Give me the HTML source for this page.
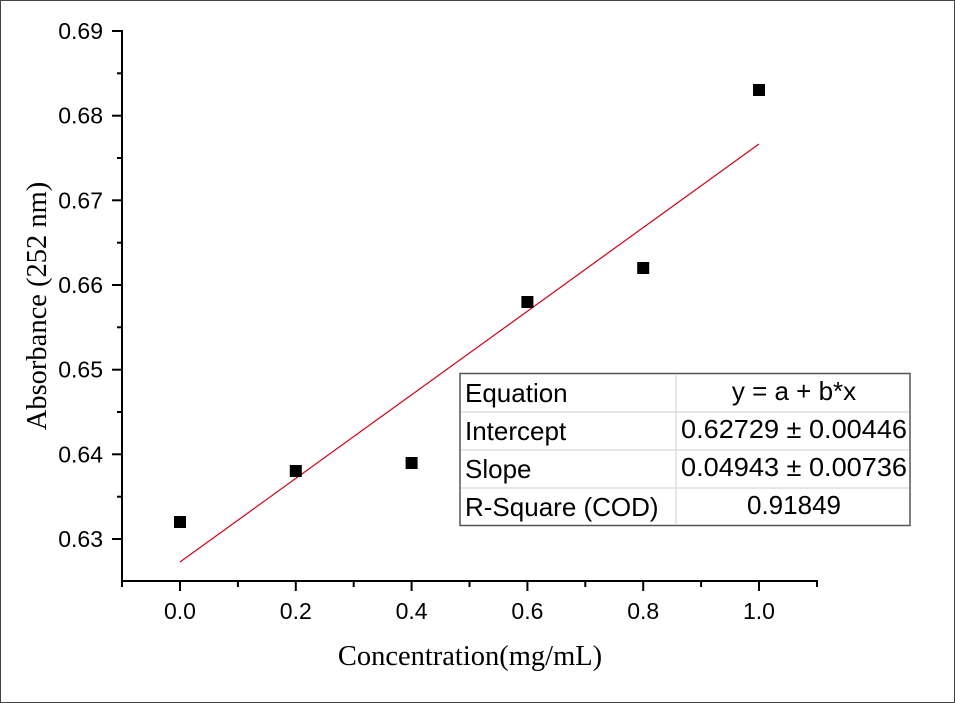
<!DOCTYPE html>
<html><head><style>body{margin:0;background:#fff}svg{display:block}</style></head><body>
<svg width="955" height="703" viewBox="0 0 955 703" xmlns="http://www.w3.org/2000/svg">
<rect x="0.5" y="0.5" width="954" height="702" fill="#fff" stroke="#444" stroke-width="1"/>
<g stroke="#000" stroke-width="2" fill="none">
<line x1="122" y1="30" x2="122" y2="582"/>
<line x1="121" y1="581" x2="818" y2="581"/>
<line x1="112" y1="31" x2="122" y2="31"/>
<line x1="112" y1="115.7" x2="122" y2="115.7"/>
<line x1="112" y1="200.3" x2="122" y2="200.3"/>
<line x1="112" y1="285" x2="122" y2="285"/>
<line x1="112" y1="369.7" x2="122" y2="369.7"/>
<line x1="112" y1="454.3" x2="122" y2="454.3"/>
<line x1="112" y1="539" x2="122" y2="539"/>
<line x1="117" y1="73.3" x2="122" y2="73.3"/>
<line x1="117" y1="158" x2="122" y2="158"/>
<line x1="117" y1="242.7" x2="122" y2="242.7"/>
<line x1="117" y1="327.3" x2="122" y2="327.3"/>
<line x1="117" y1="412" x2="122" y2="412"/>
<line x1="117" y1="496.7" x2="122" y2="496.7"/>
<line x1="180" y1="581" x2="180" y2="591"/>
<line x1="295.8" y1="581" x2="295.8" y2="591"/>
<line x1="411.6" y1="581" x2="411.6" y2="591"/>
<line x1="527.4" y1="581" x2="527.4" y2="591"/>
<line x1="643.2" y1="581" x2="643.2" y2="591"/>
<line x1="759" y1="581" x2="759" y2="591"/>
<line x1="122" y1="581" x2="122" y2="587"/>
<line x1="237.9" y1="581" x2="237.9" y2="587"/>
<line x1="353.7" y1="581" x2="353.7" y2="587"/>
<line x1="469.5" y1="581" x2="469.5" y2="587"/>
<line x1="585.3" y1="581" x2="585.3" y2="587"/>
<line x1="701.1" y1="581" x2="701.1" y2="587"/>
<line x1="817" y1="581" x2="817" y2="587"/>
</g>
<g font-family="Liberation Sans, Arial, sans-serif" font-size="23" fill="#000" text-anchor="end">
<text x="103" y="39">0.69</text>
<text x="103" y="123.7">0.68</text>
<text x="103" y="208.3">0.67</text>
<text x="103" y="293">0.66</text>
<text x="103" y="377.7">0.65</text>
<text x="103" y="462.3">0.64</text>
<text x="103" y="547">0.63</text>
</g>
<g font-family="Liberation Sans, Arial, sans-serif" font-size="23" fill="#000" text-anchor="middle">
<text x="180" y="619">0.0</text>
<text x="295.8" y="619">0.2</text>
<text x="411.6" y="619">0.4</text>
<text x="527.4" y="619">0.6</text>
<text x="643.2" y="619">0.8</text>
<text x="759" y="619">1.0</text>
</g>
<text x="470" y="665" font-family="Liberation Serif, serif" font-size="28.5" text-anchor="middle">Concentration(mg/mL)</text>
<text transform="translate(46,306) rotate(-90)" font-family="Liberation Serif, serif" font-size="28.5" text-anchor="middle">Absorbance (252 nm)</text>
<line x1="180" y1="562" x2="759" y2="144" stroke="#d0021b" stroke-width="1.2"/>
<g fill="#000">
<rect x="174" y="516" width="12" height="12"/>
<rect x="289.8" y="465" width="12" height="12"/>
<rect x="405.6" y="457" width="12" height="12"/>
<rect x="521.4" y="296" width="12" height="12"/>
<rect x="637.2" y="262" width="12" height="12"/>
<rect x="753" y="84" width="12" height="12"/>
</g>
<rect x="460" y="373.5" width="450" height="152" fill="#fff" stroke="#555" stroke-width="1.5"/>
<g stroke="#ddd" stroke-width="1.5">
<line x1="461" y1="412" x2="909" y2="412"/>
<line x1="461" y1="450" x2="909" y2="450"/>
<line x1="461" y1="488" x2="909" y2="488"/>
<line x1="676" y1="374" x2="676" y2="525"/>
</g>
<g font-family="Liberation Sans, Arial, sans-serif" font-size="26" fill="#000">
<text x="465" y="402">Equation</text>
<text x="465" y="440">Intercept</text>
<text x="465" y="478">Slope</text>
<text x="465" y="516">R-Square (COD)</text>
<g text-anchor="middle">
<text x="794" y="400">y = a + b*x</text>
<text x="794" y="438" textLength="226" lengthAdjust="spacingAndGlyphs">0.62729 ± 0.00446</text>
<text x="794" y="476" textLength="226" lengthAdjust="spacingAndGlyphs">0.04943 ± 0.00736</text>
<text x="794" y="514">0.91849</text>
</g>
</g>
</svg>
</body></html>
